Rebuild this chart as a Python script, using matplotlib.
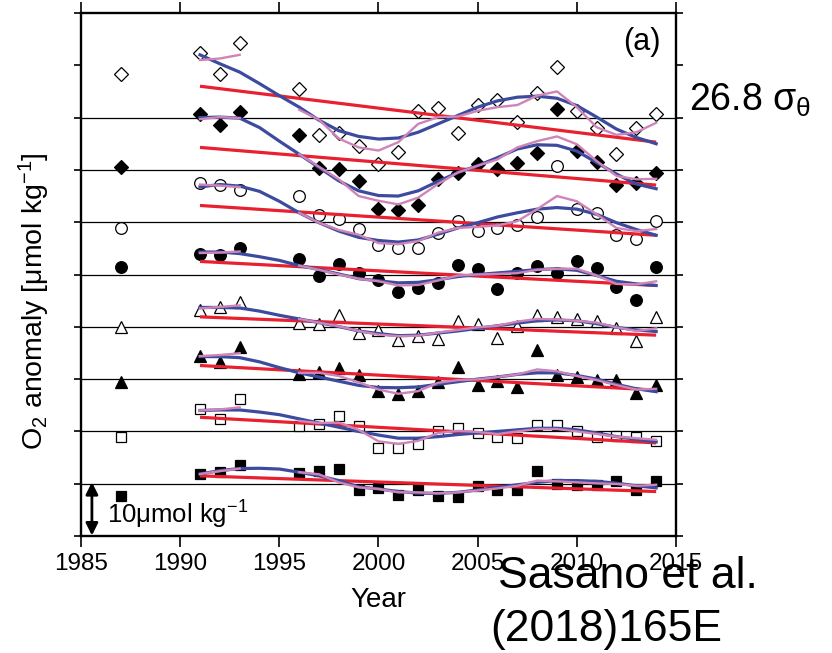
import matplotlib
matplotlib.use("Agg")
import matplotlib.pyplot as plt
import numpy as np

# ---------------- data (anomalies, umol/kg) ----------------
obs_years = [1987, 1991, 1992, 1993, 1996, 1997, 1998, 1999, 2000, 2001, 2002,
             2003, 2004, 2005, 2006, 2007, 2008, 2009, 2010, 2011, 2012, 2013, 2014]

open_diamond = [8.4, 12.3, 8.4, 14.3, 5.4, -3.3, -2.9, -5.4, -8.9, -6.6, 1.3, 1.9,
                -2.9, 2.5, 3.4, -0.8, 4.7, 9.6, 1.2, -1.9, -6.9, -2.0, 0.6]
filled_diamond = [0.6, 10.7, 8.5, 11.0, 6.75, 0.45, 0.2, -2.1, -7.5, -7.65, -6.7, -1.8,
                  -0.6, 1.1, 0.25, 1.3, 3.2, 11.7, 3.6, 1.6, -2.9, -2.6, -0.6]
open_circle = [-1.1, 7.4, 7.1, 6.1, 5.1, 1.3, 0.6, -1.3, -4.4, -4.9, -4.9, -2.0,
               0.3, -1.7, -1.1, -0.6, 1.0, 10.7, 2.5, 1.8, -2.4, -3.3, 0.3]
filled_circle = [1.5, 4.0, 3.8, 5.0, 3.0, -0.3, 2.0, 0.3, -1.0, -3.4, -2.5, -1.7,
                 1.85, 1.1, -2.7, 0.3, 1.6, 0.25, 2.5, 1.2, -2.3, -4.8, 1.5]
open_triangle = [0.0, 3.2, 3.7, 4.8, 0.8, 0.5, 2.2, -1.1, -0.6, -2.5, -1.7, -2.4,
                 1.15, 0.5, -2.2, 0.2, 2.2, 1.8, 1.4, 1.15, -0.3, -2.7, 1.8]
filled_triangle = [-0.6, 4.5, 3.3, 6.1, 1.0, 1.4, 2.2, 0.75, -2.3, -2.9, -2.3, -0.6,
                   2.35, -1.15, -0.4, -1.5, 5.5, 0.75, 0.4, -0.2, -0.2, -2.6, -1.2]
open_square = [-1.0, 4.3, 2.4, 6.2, 1.0, 1.5, 3.0, 1.1, -3.2, -3.2, -2.5, 0.1,
               0.6, -0.3, -1.0, -1.3, 1.15, 1.3, 0.0, -1.0, -0.8, -1.1, -1.9]
filled_square = [-2.3, 1.85, 2.3, 3.6, 2.05, 2.5, 2.8, -1.2, -0.9, -2.2, -1.3, -2.3,
                 -2.6, -0.4, -1.2, -1.2, 2.35, -0.06, -0.2, -0.2, 0.45, -1.15, 0.45]

# linear trends (values at 1991 and 2014)
trend_years = [1991, 2014]
trend_open_diamond = [6.0, -4.7]
trend_filled_diamond = [4.3, -2.9]
trend_open_circle = [3.2, -2.5]
trend_filled_circle = [2.5, -2.1]
trend_open_triangle = [1.9, -1.6]
trend_filled_triangle = [2.6, -2.1]
trend_open_square = [2.7, -2.2]
trend_filled_square = [1.5, -1.5]

# fitted curves (blue), read every year 1991-2014
fit_years = list(range(1991, 2015))
fit_open_diamond = [12.0, 10.3, 8.7, 6.5, 4.2, 2.0, -0.5, -2.5, -3.6, -4.1, -3.9, -2.8,
                    -1.2, 0.4, 2.0, 3.2, 3.9, 4.1, 3.7, 2.3, 0.1, -2.2, -3.8, -5.0]
fit_filled_diamond = [10.0, 10.1, 9.9, 8.1, 5.5, 3.0, 0.45, -2.1, -4.0, -4.9, -5.0, -4.0,
                      -2.2, -0.5, 0.8, 2.35, 4.0, 4.8, 4.7, 3.6, 1.4, -0.8, -2.7, -3.6]
fit_open_circle = [6.75, 7.2, 6.9, 5.9, 4.0, 1.8, -0.1, -1.7, -2.9, -3.5, -3.8, -3.4,
                   -2.3, -1.1, -0.1, 1.0, 1.8, 2.5, 2.8, 2.5, 1.5, -0.1, -1.4, -2.5]
fit_filled_circle = [4.3, 4.3, 4.0, 3.4, 2.7, 1.7, 0.95, 0.1, -0.8, -1.2, -1.6, -1.5,
                     -1.0, -0.4, 0.0, 0.3, 0.6, 0.95, 1.1, 0.8, -0.2, -1.3, -1.8, -2.1]
fit_open_triangle = [3.7, 3.7, 3.6, 3.0, 2.2, 1.5, 0.8, 0.05, -0.8, -1.3, -1.7, -1.6,
                     -1.2, -0.8, -0.3, 0.2, 0.7, 1.15, 1.3, 1.15, 0.6, -0.1, -0.6, -0.9]
fit_filled_triangle = [4.3, 4.3, 4.1, 3.3, 2.2, 1.2, 0.4, -0.4, -1.2, -1.6, -1.65, -1.5,
                       -1.0, -0.5, 0.0, 0.4, 0.9, 1.2, 1.2, 0.7, 0.0, -1.0, -1.85, -2.4]
fit_open_square = [4.0, 4.1, 4.1, 3.7, 3.2, 2.4, 1.6, 0.8, 0.0, -0.7, -1.3, -1.3,
                   -1.0, -0.6, -0.3, 0.0, 0.3, 0.6, 0.6, 0.3, -0.3, -1.0, -1.5, -2.0]
fit_filled_square = [1.85, 2.5, 2.9, 2.95, 2.8, 2.2, 1.5, 0.6, -0.6, -1.0, -1.5, -1.8,
                     -1.85, -1.65, -1.2, -0.7, -0.2, 0.25, 0.6, 0.6, 0.45, 0.1, -0.4, -0.8]

# running means (pink): early segment 1991-1993, late segment 1996-2014
run_years_early = [1991, 1992, 1993]
run_years_late = list(range(1996, 2015))
run_early_open_diamond = [11.0, 11.3, 12.0]
run_late_open_diamond = [1.5, -0.4, -4.0, -5.7, -6.3, -4.7, -1.2, 0.06, 0.2, 1.3, 2.0,
                         2.4, 4.2, 5.0, 2.0, -1.85, -3.3, -2.8, -1.0]
run_early_filled_diamond = [9.7, 10.1, 9.9]
run_late_filled_diamond = [3.0, 0.6, -1.8, -5.0, -5.9, -6.6, -5.3, -2.7, -0.5, 0.8, 2.0,
                           4.3, 5.5, 6.4, 4.9, 1.7, -1.15, -1.8, -1.7]
run_early_open_circle = [7.2, 7.0, 6.7]
run_late_open_circle = [1.8, -0.1, -1.5, -2.4, -4.0, -4.2, -3.6, -2.0, -1.1, -0.9, -0.6,
                        0.2, 2.5, 5.0, 4.0, 1.5, -1.1, -1.7, -1.3]
run_early_filled_circle = [4.1, 4.2, 4.4]
run_late_filled_circle = [1.7, 0.9, 0.0, -0.8, -1.3, -2.1, -2.0, -1.15, -0.2, 0.0, 0.1,
                          0.25, 0.9, 1.1, 1.1, -0.2, -1.8, -1.9, -1.3]
run_early_open_triangle = [3.5, 3.8, 4.1]
run_late_open_triangle = [1.5, 0.8, 0.1, -0.8, -1.5, -1.8, -1.7, -1.1, -0.6, -0.1, 0.2,
                          1.0, 1.5, 1.4, 1.15, 0.8, -0.1, -0.8, -0.3]
run_early_filled_triangle = [4.4, 4.6, 4.95]
run_late_filled_triangle = [1.2, 1.2, 0.6, -0.6, -2.0, -2.8, -2.3, -0.7, -0.2, -0.06, 0.4,
                            0.9, 1.85, 1.5, 0.6, -0.2, -1.15, -2.0, -1.85]
run_early_open_square = [4.0, 4.2, 4.6]
run_late_open_square = [2.0, 1.6, 1.7, 0.3, -1.9, -2.4, -1.8, -0.3, 0.1, -0.1, -0.5,
                        0.0, 0.45, 0.45, 0.0, -0.5, -1.0, -1.3, -1.6]
run_early_filled_square = [1.85, 2.4, 2.9]
run_late_filled_square = [2.2, 1.8, 0.25, -0.7, -1.0, -1.65, -1.65, -1.85, -1.65, -1.3, -0.9,
                          -0.4, 0.6, 0.45, 0.25, 0.06, -0.06, -0.4, -0.2]

xticks = [1985, 1990, 1995, 2000, 2005, 2010, 2015]

# ---------------- layout / style ----------------
plt.rcParams['font.family'] = ['Liberation Sans', 'DejaVu Sans']
plt.rcParams['mathtext.fontset'] = 'custom'
plt.rcParams['mathtext.rm'] = 'Liberation Sans'
plt.rcParams['mathtext.it'] = 'Liberation Sans'
plt.rcParams['mathtext.bf'] = 'Liberation Sans:bold'

RED = '#e8202f'
BLUE = '#3d4b9f'
PINK = '#cf84b8'

series = [
    (open_diamond, fit_open_diamond, trend_open_diamond, run_early_open_diamond, run_late_open_diamond, 'D', False, 80),
    (filled_diamond, fit_filled_diamond, trend_filled_diamond, run_early_filled_diamond, run_late_filled_diamond, 'D', True, 70),
    (open_circle, fit_open_circle, trend_open_circle, run_early_open_circle, run_late_open_circle, 'o', False, 60),
    (filled_circle, fit_filled_circle, trend_filled_circle, run_early_filled_circle, run_late_filled_circle, 'o', True, 50),
    (open_triangle, fit_open_triangle, trend_open_triangle, run_early_open_triangle, run_late_open_triangle, '^', False, 40),
    (filled_triangle, fit_filled_triangle, trend_filled_triangle, run_early_filled_triangle, run_late_filled_triangle, '^', True, 30),
    (open_square, fit_open_square, trend_open_square, run_early_open_square, run_late_open_square, 's', False, 20),
    (filled_square, fit_filled_square, trend_filled_square, run_early_filled_square, run_late_filled_square, 's', True, 10),
]
marker_sizes = {'D': 7.2, 'o': 8.4, '^': 8.6, 's': 7.0}

fig = plt.figure(figsize=(8.32, 6.53), dpi=100)
ax = fig.add_axes([81 / 832, 1 - 536 / 653, (676 - 81) / 832, (536 - 13) / 653])

ax.set_xlim(1985, 2015)
ax.set_ylim(0, 100)

for base in [10, 20, 30, 40, 50, 60, 70, 80]:
    ax.axhline(base, color='black', lw=0.9, zorder=1)

for obs, fit, trend, run_e, run_l, mk, filled, base in series:
    ax.plot(obs_years, np.array(obs) + base, linestyle='none', marker=mk,
            markersize=marker_sizes[mk], markerfacecolor='black' if filled else 'white',
            markeredgecolor='black', markeredgewidth=0.9, zorder=3)
    ax.plot(trend_years, np.array(trend) + base, color=RED, lw=2.3, zorder=4,
            solid_capstyle='butt')
    ax.plot(fit_years, np.array(fit) + base, color=BLUE, lw=2.3, zorder=5)
    ax.plot(run_years_early, np.array(run_e) + base, color=PINK, lw=1.7, zorder=6)
    ax.plot(run_years_late, np.array(run_l) + base, color=PINK, lw=1.7, zorder=6)

# axes styling
for sp in ax.spines.values():
    sp.set_linewidth(1.7)
ax.set_xticks(xticks)
ax.set_xticklabels([str(t) for t in xticks], fontsize=17.5)
ax.set_yticks(np.arange(0, 101, 10))
ax.tick_params(axis='x', which='both', direction='out', length=8, width=1.2,
               top=True, bottom=True, pad=4)
ax.tick_params(axis='y', which='both', direction='out', length=5, width=1.2,
               left=True, right=True, labelleft=False, labelright=False)

ax.set_xlabel('Year', fontsize=20, labelpad=9)
ax.set_ylabel(r'O$_2$ anomaly [$\mathrm{\mu}$mol kg$^{-1}$]', fontsize=20.5)
ax.yaxis.set_label_coords(-0.048, 0.45)

# scale bar arrow
ax.annotate('', xy=(1985.55, 0.1), xytext=(1985.55, 10.3),
            arrowprops=dict(arrowstyle='<|-|>', color='black', lw=2.0,
                            mutation_scale=18, shrinkA=0, shrinkB=0))
ax.text(1986.3, 4.0, r'10$\mathrm{\mu}$mol kg$^{-1}$', fontsize=18.5, va='center', ha='left')

ax.text(2014.2, 94.4, '(a)', fontsize=22, ha='right', va='center')

fig.text(689 / 832, 1 - 100 / 653, r'26.8 $\mathrm{\sigma_{\theta}}$', fontsize=27,
         ha='left', va='center')

fig.text(628 / 832, 1 - 577 / 653, 'Sasano et al.', fontsize=32, ha='center', va='center')
fig.text(606 / 832, 1 - 630 / 653, '(2018)165E', fontsize=32, ha='center', va='center')

fig.savefig('out.png', dpi=100)
